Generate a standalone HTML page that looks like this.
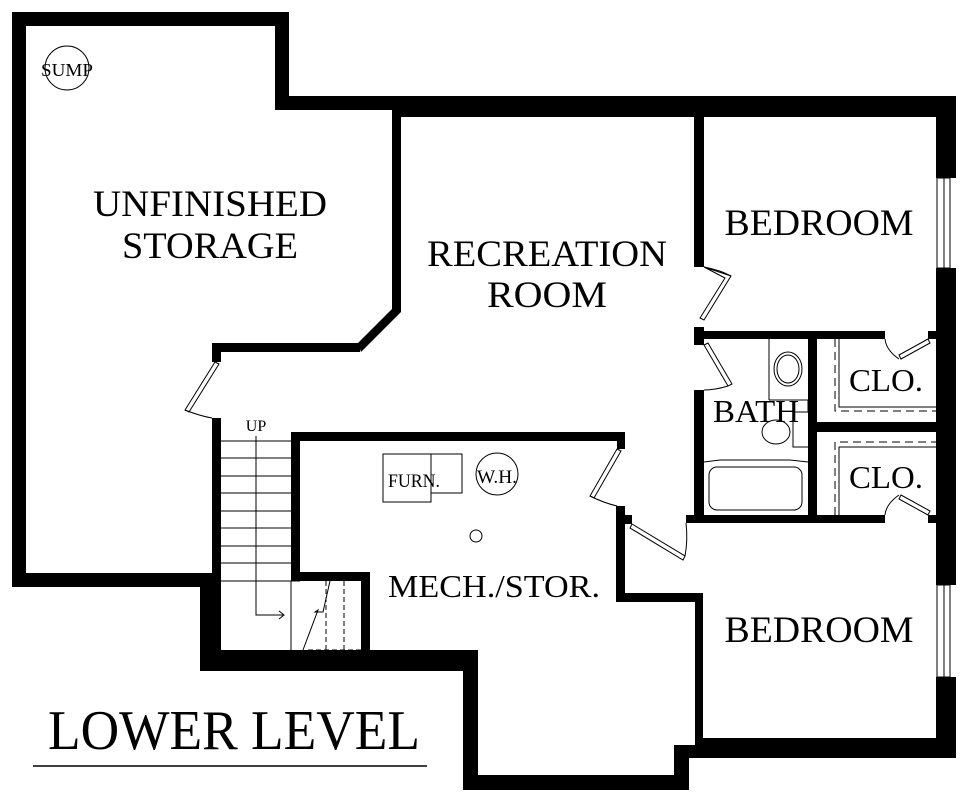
<!DOCTYPE html>
<html><head><meta charset="utf-8"><style>
html,body{margin:0;padding:0;background:#fff;}
svg{display:block;}
text{font-family:"Liberation Serif",serif;fill:#000;}
</style></head><body>
<svg width="967" height="800" viewBox="0 0 967 800" xmlns="http://www.w3.org/2000/svg">
<g fill="#000">
<!-- storage outer -->
<rect x="12" y="12" width="277" height="14"/>
<rect x="12" y="12" width="14" height="575"/>
<rect x="275" y="12" width="14" height="98"/>
<rect x="275" y="96" width="681" height="14"/>
<rect x="392" y="96" width="564" height="21"/>
<rect x="12" y="573" width="209" height="14"/>
<!-- storage/rec partition -->
<rect x="392" y="110" width="9" height="200"/>
<polygon points="392,305 401,310 401,312 361,352 358,343 392,309"/>
<rect x="212" y="343" width="148" height="9"/>
<rect x="212" y="343" width="9" height="19"/>
<!-- stair walls -->
<rect x="212" y="418" width="9" height="240"/>
<rect x="200" y="573" width="21" height="98"/>
<rect x="200" y="650" width="278" height="21"/>
<rect x="463" y="650" width="15" height="140"/>
<rect x="463" y="775" width="226" height="15"/>
<rect x="674" y="745" width="15" height="45"/>
<rect x="674" y="745" width="29" height="13"/>
<rect x="291" y="432" width="9" height="149"/>
<rect x="291" y="432" width="334" height="9"/>
<rect x="617" y="432" width="8" height="17"/>
<rect x="300" y="572" width="70" height="9"/>
<rect x="361" y="572" width="9" height="85"/>
<!-- mech right -->
<rect x="616" y="506" width="9" height="96"/>
<rect x="625" y="515" width="7" height="9"/>
<rect x="616" y="593" width="87" height="9"/>
<rect x="695" y="593" width="8" height="165"/>
<rect x="695" y="738" width="261" height="20"/>
<!-- right outer -->
<rect x="936" y="96" width="20" height="82"/>
<rect x="936" y="268" width="20" height="317"/>
<rect x="936" y="677" width="20" height="81"/>
<!-- bedroom1 / bath -->
<rect x="694" y="117" width="10" height="150"/>
<rect x="694" y="327" width="10" height="18"/>
<rect x="694" y="331" width="191" height="8"/>
<rect x="928" y="331" width="8" height="8"/>
<rect x="694" y="390" width="10" height="133"/>
<rect x="686" y="515" width="199" height="8"/>
<rect x="928" y="515" width="8" height="8"/>
<rect x="808" y="339" width="9" height="176"/>
<rect x="817" y="422" width="119" height="10"/>
</g>
<g fill="none" stroke="#000" stroke-width="1">
<!-- windows -->
<rect x="937" y="178" width="13" height="90"/>
<line x1="944" y1="178" x2="944" y2="268"/>
<rect x="937" y="585" width="13" height="92"/>
<line x1="944" y1="585" x2="944" y2="677"/>
<!-- stairs -->
<g stroke-width="1">
<line x1="221" y1="441" x2="291" y2="441"/><line x1="221" y1="458" x2="291" y2="458"/>
<line x1="221" y1="476" x2="291" y2="476"/><line x1="221" y1="493" x2="291" y2="493"/>
<line x1="221" y1="511" x2="291" y2="511"/><line x1="221" y1="528" x2="291" y2="528"/>
<line x1="221" y1="546" x2="291" y2="546"/><line x1="221" y1="563" x2="291" y2="563"/>
<line x1="221" y1="581" x2="300" y2="581"/>
<line x1="291" y1="581" x2="291" y2="650"/>
<polyline points="256,436 256,615 283,615"/>
<polyline points="279,611 284,615 279,619"/>
<polyline points="330,581 323,612 315,612 318,610 303,650"/>
<line x1="308" y1="650" x2="361" y2="650" stroke-dasharray="5,3"/>
<line x1="326" y1="581" x2="326" y2="650" stroke-dasharray="5,3"/>
<line x1="344" y1="581" x2="344" y2="650" stroke-dasharray="5,3"/>
</g>
<!-- doors -->
<polygon points="215,362 219,364 189,412 185,410"/>
<path d="M185,410 Q200,416 212,418"/>
<polygon points="617,449 621,451 594,498 590,496"/>
<path d="M590,496 Q604,503 617,506"/>
<polygon points="632,524 685,556 683,560 630,528"/>
<path d="M685,556 Q688,540 686,523"/>
<polygon points="704,267 731,276 704,320 700,318 725,278"/>
<path d="M704,267 Q720,270 731,276"/>
<polygon points="704,345 708,343 732,384 728,386"/>
<path d="M728,386 Q715,390 704,390"/>
<polygon points="928,339 930,343 901,359 899,355"/>
<path d="M885,339 Q886,350 899,359"/>
<polygon points="928,515 930,511 901,495 899,499"/>
<path d="M885,515 Q886,504 899,495"/>
<!-- closets -->
<polyline points="835,339 835,411 936,411" stroke-dasharray="8,5"/>
<polyline points="839,339 839,407 936,407"/>
<polyline points="835,515 835,442 936,442" stroke-dasharray="8,5"/>
<polyline points="839,515 839,447 936,447"/>
<!-- bath fixtures -->
<line x1="769" y1="339" x2="769" y2="400"/>
<line x1="769" y1="400" x2="808" y2="400"/>
<ellipse cx="788" cy="369" rx="14" ry="17"/>
<ellipse cx="788" cy="369" rx="11" ry="14"/>
<ellipse cx="776" cy="432" rx="14" ry="12"/>
<polyline points="808,400 808,412 793,412 793,447 808,447"/>
<path d="M704,462 L720,460 L790,460 L808,462"/>
<rect x="709" y="467" width="93" height="43" rx="8"/>
<!-- furnace etc -->
<rect x="383" y="454" width="48" height="48"/>
<rect x="431" y="454" width="31" height="39"/>
<circle cx="497" cy="474" r="21"/>
<circle cx="476" cy="536" r="6"/>
<circle cx="67" cy="68" r="22"/>
<line x1="33" y1="766" x2="427" y2="766" stroke-width="1.5"/>
</g>
<text x="67" y="76" font-size="18" text-anchor="middle" textLength="52" lengthAdjust="spacingAndGlyphs">SUMP</text>
<text x="210" y="216" font-size="37" text-anchor="middle" textLength="234" lengthAdjust="spacingAndGlyphs">UNFINISHED</text>
<text x="210" y="258" font-size="37" text-anchor="middle" textLength="176" lengthAdjust="spacingAndGlyphs">STORAGE</text>
<text x="547" y="266" font-size="37" text-anchor="middle" textLength="240" lengthAdjust="spacingAndGlyphs">RECREATION</text>
<text x="547" y="307" font-size="37" text-anchor="middle" textLength="120" lengthAdjust="spacingAndGlyphs">ROOM</text>
<text x="819" y="235" font-size="37" text-anchor="middle" textLength="189" lengthAdjust="spacingAndGlyphs">BEDROOM</text>
<text x="819" y="642" font-size="37" text-anchor="middle" textLength="189" lengthAdjust="spacingAndGlyphs">BEDROOM</text>
<text x="756" y="422" font-size="32" text-anchor="middle" textLength="86" lengthAdjust="spacingAndGlyphs">BATH</text>
<text x="886" y="391" font-size="32" text-anchor="middle" textLength="74" lengthAdjust="spacingAndGlyphs">CLO.</text>
<text x="886" y="488" font-size="32" text-anchor="middle" textLength="74" lengthAdjust="spacingAndGlyphs">CLO.</text>
<text x="494" y="597" font-size="32" text-anchor="middle" textLength="212" lengthAdjust="spacingAndGlyphs">MECH./STOR.</text>
<text x="414" y="487" font-size="19" text-anchor="middle" textLength="52" lengthAdjust="spacingAndGlyphs">FURN.</text>
<text x="497" y="483" font-size="19" text-anchor="middle" textLength="40" lengthAdjust="spacingAndGlyphs">W.H.</text>
<text x="256" y="431" font-size="16" text-anchor="middle">UP</text>
<text x="234" y="749" font-size="56" text-anchor="middle" textLength="372" lengthAdjust="spacingAndGlyphs">LOWER LEVEL</text>
</svg>
</body></html>
